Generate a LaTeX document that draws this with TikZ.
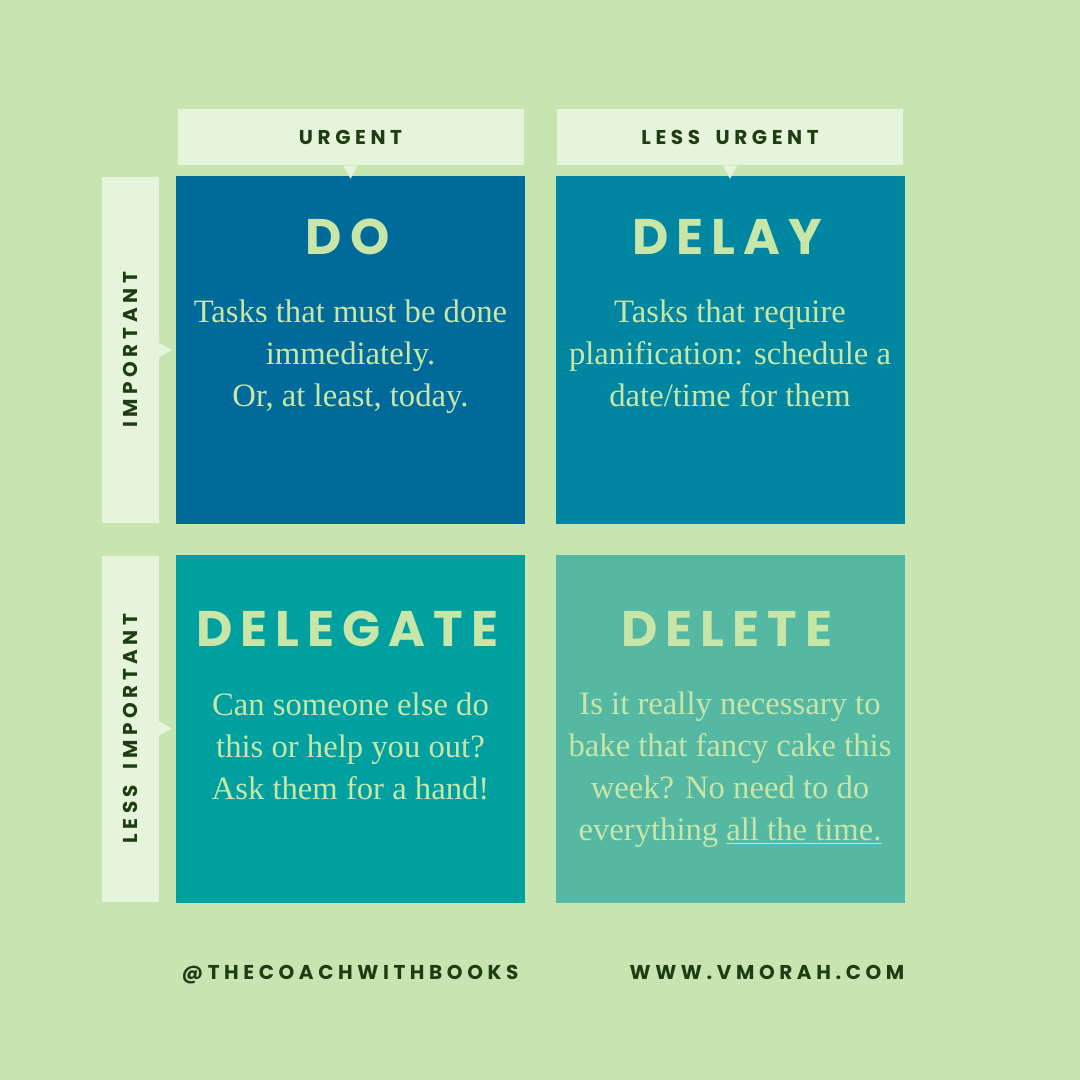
\documentclass[tikz,border=0pt]{standalone}
\usepackage{fontspec}
\setmainfont{Liberation Serif}
\newfontfamily\labelfont[LetterSpace=23]{Poppins}
\newfontfamily\titlefont[LetterSpace=16]{Poppins}
\usetikzlibrary{positioning, calc}
\definecolor{bggreen}{HTML}{C7E5B1}
\definecolor{palegreen}{HTML}{E6F4DC}
\definecolor{darkgreen}{HTML}{1F3D12}
\definecolor{lighttext}{HTML}{C8E6A8}
\definecolor{doblue}{HTML}{006A9B}
\definecolor{delayblue}{HTML}{0086A1}
\definecolor{delegateteal}{HTML}{00A0A0}
\definecolor{deletegreen}{HTML}{54B8A3}

\begin{document}
\begin{tikzpicture}[x=0.75pt, y=-0.75pt,
    quad/.style={rectangle, minimum width=261.75pt, minimum height=261pt, inner sep=0pt},
    toplabel/.style={rectangle, fill=palegreen, minimum width=259.5pt, minimum height=42pt, inner sep=0pt, text=darkgreen, font=\labelfont\bfseries\fontsize{15}{18}\selectfont},
    sidelabel/.style={rectangle, fill=palegreen, minimum width=259.5pt, minimum height=42.75pt, inner sep=0pt, rotate=90, text=darkgreen, font=\labelfont\bfseries\fontsize{15}{18}\selectfont},
    title/.style={text=lighttext, font=\titlefont\bfseries\fontsize{37.5}{40}\selectfont},
    body/.style={text=lighttext, align=center, xshift=2.25pt, font=\fontsize{24.5}{31.5}\selectfont},
    footer/.style={text=darkgreen, text height=11pt, text depth=0pt, font=\labelfont\bfseries\fontsize{15}{18}\selectfont},
    node distance=22.5pt]
    \fill[bggreen] (0,0) rectangle (1080,1080);
    % quadrants
    \node[quad, fill=doblue] (do) at (350.5,350) {};
    \node[quad, fill=delayblue, right=22.5pt of do] (delay) {};
    \node[quad, fill=delegateteal, below=22.5pt of do] (delegate) {};
    \node[quad, fill=deletegreen, right=22.5pt of delegate] (delete) {};
    % axis labels
    \node[toplabel, above=7.5pt of do] (urgent) {URGENT};
    \node[toplabel, above=7.5pt of delay] (lessurgent) {LESS\hspace{5pt} URGENT};
    \node[sidelabel] (important) at ($(do.west)+(-45.5,0)$) {IMPORTANT};
    \node[sidelabel] (lessimportant) at ($(delegate.west)+(-45.5,0)$) {LESS\hspace{5pt} IMPORTANT};
    % pointers
    \foreach \n in {urgent, lessurgent}
        \fill[palegreen] ($(\n.south)+(-7,0)$) -- ++(14,0) -- ++(-7,13) -- cycle;
    \foreach \n in {important, lessimportant}
        \fill[palegreen] ($(\n.south)+(0,-7)$) -- ++(0,14) -- ++(13,-7) -- cycle;
    % titles
    \node[title] (dotitle) at ($(do.north)+(-3,61)$) {DO};
    \node[title] (delaytitle) at ($(delay.north)+(-3,61)$) {DELAY};
    \node[title] (delegatetitle) at ($(delegate.north)+(-3,75)$) {DELEGATE};
    \node[title] (deletetitle) at ($(delete.north)+(-3,75)$) {DELETE};
    % texts
    \node[body, below=27pt of dotitle] (dotext) {Tasks that must be done\\immediately.\\Or, at least, today.};
    \node[body, below=27pt of delaytitle] (delaytext) {Tasks that require\\planification: schedule a\\date/time for them};
    \node[body, below=27pt of delegatetitle] (delegatetext) {Can someone else do\\this or help you out?\\Ask them for a hand!};
    \node[body, below=27pt of deletetitle] (deletetext) {Is it really necessary to\\bake that fancy cake this\\week? No need to do\\everything \underline{all the time.}};
    % footer
    \node[footer] (handle) at (350,972) {@THECOACHWITHBOOKS};
    \node[footer] (site) at (767,972) {WWW.VMORAH.COM};
\end{tikzpicture}
\end{document}
